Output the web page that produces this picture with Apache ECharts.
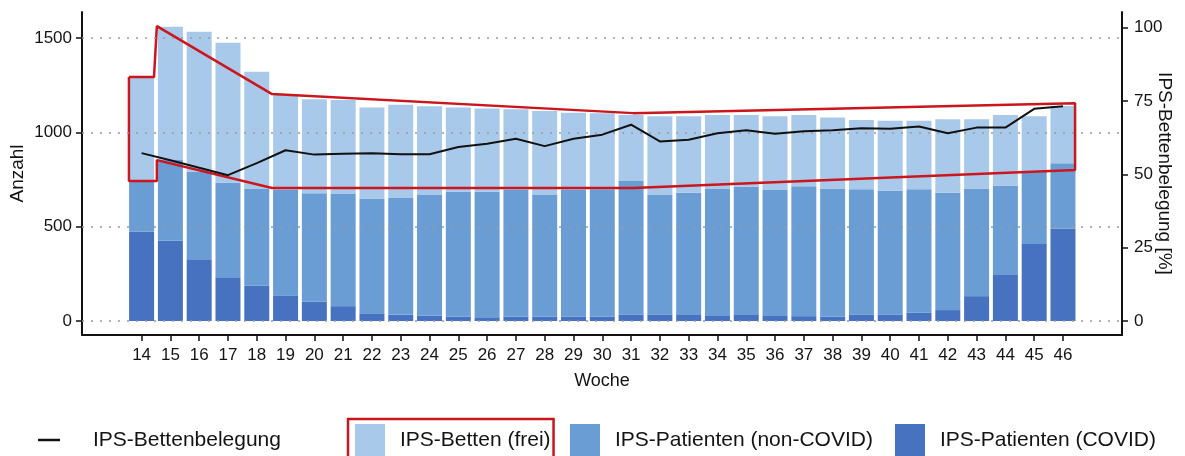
<!DOCTYPE html>
<html>
<head>
<meta charset="utf-8">
<script src="https://cdn.jsdelivr.net/npm/echarts@6/dist/echarts.min.js"></script>
<style>
  html, body { margin: 0; padding: 0; background: #fff; }
  #chart { width: 1185px; height: 456px; }
</style>
</head>
<body>
<div id="chart"></div>
<script>
// Kalenderwochen
const wochen = [14, 15, 16, 17, 18, 19, 20, 21, 22, 23, 24, 25, 26, 27, 28, 29, 30,
  31, 32, 33, 34, 35, 36, 37, 38, 39, 40, 41, 42, 43, 44, 45, 46];
// IPS-Patienten (COVID)
const covid = [473, 425, 327, 232, 187, 136, 102, 79, 41, 33, 28, 23, 20, 23, 23, 24, 23,
  35, 35, 32, 27, 32, 27, 26, 23, 35, 35, 44, 58, 132, 244, 408, 491];
// IPS-Patienten (non-COVID)
const nonCovid = [269, 428, 464, 501, 516, 558, 575, 594, 609, 619, 640, 662, 665, 671, 645, 670, 675,
  707, 633, 648, 676, 680, 667, 689, 680, 663, 655, 654, 622, 571, 473, 383, 345];
// IPS-Betten (frei)
const frei = [553, 707, 742, 742, 618, 509, 499, 498, 482, 495, 471, 447, 442, 428, 445, 410, 403,
  350, 418, 406, 389, 380, 392, 377, 376, 367, 372, 364, 389, 366, 375, 295, 304];
// IPS-Bettenbelegung in %
const belegung = [57.2, 54.8, 52.2, 49.7, 53.8, 58.2, 56.7, 57.0, 57.2, 56.8, 56.8, 59.3, 60.4, 62.1, 59.6, 62.1, 63.5,
  66.9, 61.2, 61.8, 64.0, 65.0, 63.8, 64.7, 65.0, 65.7, 65.5, 66.3, 64.0, 65.9, 65.9, 72.3, 73.2];
// rote Markierung um die freien Betten (Woche, Anzahl)
const rahmen = [[13.56, 1293], [14.43, 1293], [14.53, 1563], [18.53, 1203], [31.07, 1102], [46.42, 1155],
  [46.42, 800], [31.07, 705], [18.53, 705], [14.53, 853], [14.53, 742], [13.56, 742], [13.56, 1293]];
// Achsenbeschriftungen
const ticksAnzahl = [0, 500, 1000, 1500];
const ticksProzent = [0, 25, 50, 75, 100];

const schrift = "'Liberation Sans', Arial, sans-serif";
const textFarbe = '#141414';
const achse = { lineStyle: { color: '#111', width: 2 }, onZero: false, show: true };
const strich = { show: true, length: 6, lineStyle: { color: '#111', width: 1.5 } };

// Wert zuerst, Woche danach: so stapelt ECharts auf der y-Dimension
const balken = (werte) => wochen.map((w, i) => [werte[i], w]);
const paare = (werte) => wochen.map((w, i) => [w, werte[i]]);

const chart = echarts.init(document.getElementById('chart'));

const legendeText = (abstand) => ({
  fontSize: 21, color: textFarbe, fontFamily: schrift, lineHeight: 32, padding: [0, 0, 0, abstand]
});

const balkenSerie = (name, farbe, werte) => ({
  name: name, type: 'bar', stack: 'betten', barWidth: 25,
  encode: { x: 1, y: 0 },
  itemStyle: { color: farbe }, data: balken(werte)
});

const option = {
  animation: false,
  textStyle: { fontFamily: schrift },
  grid: { left: 82, right: 63, top: 12, bottom: 121, outerBoundsMode: 'none', containLabel: false },
  xAxis: {
    type: 'value', min: 11.93, max: 48.05,
    name: 'Woche', nameLocation: 'middle', nameGap: 37, nameMoveOverlap: false,
    nameTextStyle: { fontSize: 18, color: textFarbe },
    axisLine: achse,
    axisTick: Object.assign({ customValues: wochen }, strich),
    axisLabel: { customValues: wochen, fontSize: 17, color: textFarbe, margin: 12 },
    splitLine: { show: false }
  },
  yAxis: [
    {
      type: 'value', min: -74, max: 1638,
      name: 'Anzahl', nameLocation: 'middle', nameGap: 55, nameMoveOverlap: false,
      nameTextStyle: { fontSize: 19, color: textFarbe },
      axisLine: achse,
      axisTick: Object.assign({ customValues: ticksAnzahl }, strich),
      axisLabel: { customValues: ticksAnzahl, fontSize: 17, color: textFarbe, margin: 10,
        formatter: (v) => String(v) },
      splitLine: { show: false }
    },
    {
      type: 'value', min: -4.77, max: 105.3, position: 'right',
      name: 'IPS-Bettenbelegung [%]', nameLocation: 'middle', nameGap: 33, nameRotate: -90,
      nameMoveOverlap: false,
      nameTextStyle: { fontSize: 19, color: textFarbe },
      axisLine: achse,
      axisTick: Object.assign({ customValues: ticksProzent }, strich),
      axisLabel: { customValues: ticksProzent, fontSize: 17, color: textFarbe, margin: 12 },
      splitLine: { show: false }
    }
  ],
  legend: [
    {
      left: 38, top: 424, padding: 0, selectedMode: false,
      data: [{ name: 'IPS-Bettenbelegung', icon: 'rect' }],
      itemWidth: 22, itemHeight: 2.5, textStyle: legendeText(28)
    },
    {
      left: 348, top: 419, padding: [5, 3, 10, 7], selectedMode: false,
      borderColor: '#c8161d', borderWidth: 2.5, borderRadius: 0,
      data: [{ name: 'IPS-Betten (frei)', icon: 'rect' }],
      itemWidth: 30, itemHeight: 32, textStyle: legendeText(10)
    },
    {
      left: 570, top: 424, padding: 0, selectedMode: false,
      data: [{ name: 'IPS-Patienten (non-COVID)', icon: 'rect' }],
      itemWidth: 30, itemHeight: 32, textStyle: legendeText(10)
    },
    {
      left: 895, top: 424, padding: 0, selectedMode: false,
      data: [{ name: 'IPS-Patienten (COVID)', icon: 'rect' }],
      itemWidth: 30, itemHeight: 32, textStyle: legendeText(10)
    }
  ],
  series: [
    balkenSerie('IPS-Patienten (COVID)', '#4672c0', covid),
    balkenSerie('IPS-Patienten (non-COVID)', '#6a9dd4', nonCovid),
    balkenSerie('IPS-Betten (frei)', '#a9c9eb', frei),
    {
      // rote Umrandung und gepunktete Rasterlinien
      name: 'Markierung', type: 'line', z: 4, silent: true,
      symbol: 'none', lineStyle: { color: '#cc161d', width: 2.5 },
      data: rahmen,
      markLine: {
        silent: true, symbol: 'none', label: { show: false },
        lineStyle: { color: '#9a9a9a', type: [2, 7], width: 1.5 },
        data: ticksAnzahl.map((v) => ({ yAxis: v }))
      }
    },
    {
      name: 'IPS-Bettenbelegung', type: 'line', yAxisIndex: 1, z: 5,
      symbol: 'none', itemStyle: { color: '#111' },
      lineStyle: { color: '#111', width: 2 },
      data: paare(belegung)
    }
  ]
};

chart.setOption(option);
</script>
</body>
</html>
